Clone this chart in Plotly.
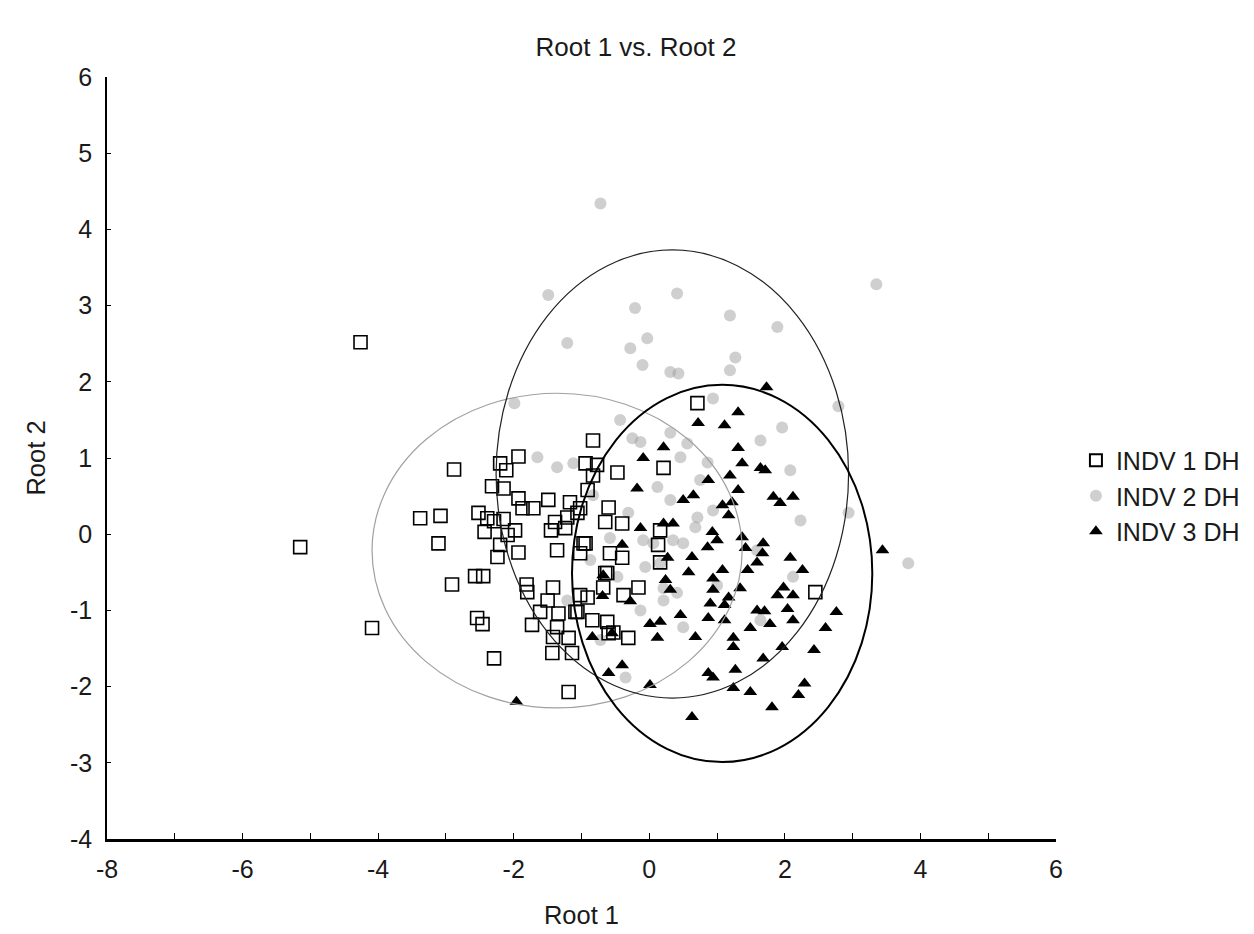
import plotly.graph_objects as go

# ---------------- data ----------------
indv1_x = [-4.26, -5.15, -4.09, -2.88, -3.38, -3.08, -3.11, -2.91, -2.57, -2.45,
           -2.54, -2.46, -2.29, -2.52, -2.39, -2.29, -2.15, -2.43, -1.98, -2.09,
           -2.20, -2.24, -1.93, -2.20, -1.93, -2.11, -2.32, -2.15, -1.93, -1.87,
           -1.71, -1.49, -1.17, -1.45, -1.39, -1.21, -1.24, -1.36, -1.81, -1.42,
           -1.80, -0.97, -1.02, -0.58, -0.40, -1.50, -1.61, -1.34, -1.06, -0.91,
           -1.02, -0.68, -0.65, -0.38, -0.16, -1.73, -1.36, -1.19, -1.42, -0.84,
           -0.62, -0.60, -0.53, -0.31, -1.43, -1.14, -1.19, 0.71, -0.83, -0.94,
           -0.77, -0.83, -0.47, 0.21, -0.91, -1.02, -1.06, -0.60, -0.65, -0.40,
           0.16, -0.94, 0.13, 0.16, -0.62, 2.45, -1.09]
indv1_y = [2.52, -0.17, -1.23, 0.85, 0.21, 0.24, -0.12, -0.66, -0.55, -0.55,
           -1.10, -1.18, -1.63, 0.28, 0.21, 0.17, 0.20, 0.03, 0.05, -0.01,
           -0.14, -0.30, -0.24, 0.93, 1.02, 0.84, 0.63, 0.60, 0.47, 0.34,
           0.34, 0.45, 0.42, 0.05, 0.16, 0.22, 0.08, -0.21, -0.66, -0.70,
           -0.76, -0.12, -0.25, -0.25, -0.31, -0.87, -1.02, -1.04, -1.02, -0.83,
           -0.80, -0.70, -0.51, -0.80, -0.70, -1.19, -1.22, -1.36, -1.35, -1.13,
           -1.15, -1.30, -1.29, -1.36, -1.56, -1.56, -2.07, 1.72, 1.23, 0.93,
           0.91, 0.77, 0.81, 0.87, 0.58, 0.34, 0.28, 0.35, 0.16, 0.14,
           0.05, -0.12, -0.14, -0.37, -0.51, -0.76, -1.02]

indv2_x = [-0.72, -1.49, -1.21, -0.21, 0.41, 1.19, 1.89, 3.35, -0.28, -0.03,
           -0.10, 0.31, 0.43, 1.27, 1.19, -1.99, 0.94, 2.79, 1.96, -0.25,
           -0.13, 0.31, 0.56, 0.46, 0.86, 0.12, -0.83, -0.31, 0.31, 0.71,
           0.94, 0.35, 0.50, -0.09, -0.58, -0.06, 1.00, 0.21, 0.68, 1.59,
           2.94, 3.82, 2.12, 0.41, 0.50, 0.21, -0.35, -0.47, 1.64, -1.21,
           0.16, 0.06, -1.65, -1.36, -1.12, -0.72, 0.75, -0.43, 1.64, 2.08,
           2.23, -0.87, -0.13]
indv2_y = [4.34, 3.14, 2.51, 2.97, 3.16, 2.87, 2.72, 3.28, 2.44, 2.57,
           2.22, 2.13, 2.11, 2.32, 2.15, 1.72, 1.78, 1.68, 1.40, 1.26,
           1.21, 1.33, 1.19, 1.01, 0.94, 0.62, 0.51, 0.28, 0.45, 0.22,
           0.31, -0.08, -0.12, -0.08, -0.05, -0.43, -0.67, -0.71, 0.09, -0.21,
           0.28, -0.38, -0.56, -0.77, -1.22, -0.87, -1.88, -0.56, -1.13, -0.87,
           -0.38, -0.12, 1.01, 0.88, 0.93, -1.39, 0.71, 1.50, 1.23, 0.84,
           0.18, -0.34, -1.00]

indv3_x = [1.73, 1.31, 0.72, 1.11, 1.31, 1.37, 0.21, -0.09, 1.64, 1.71,
           0.87, 1.19, -0.18, 0.65, 0.50, 1.31, 1.08, 1.22, 1.17, 1.83,
           1.93, 2.12, 0.21, 0.35, -0.13, 0.93, 1.00, 0.86, 1.37, 1.42,
           1.68, 1.67, -0.40, 0.63, 0.27, 2.08, 1.59, 2.26, 1.08, 0.58,
           0.94, 1.45, 0.24, 0.31, 0.94, 1.17, 1.34, 1.98, 2.12, 1.89,
           -0.68, -0.28, -0.69, 0.90, 1.11, 1.59, 1.70, 2.04, 0.46, 0.87,
           2.76, 0.01, 0.16, 1.11, 1.49, 1.78, 2.12, 2.60, -0.84, -0.55,
           0.12, 0.68, 1.24, 1.24, 1.96, 2.43, 1.68, 1.27, 0.87, 0.94,
           -0.40, -0.60, 0.01, 1.24, 1.49, 2.29, 2.20, 1.81, 0.63, -1.96,
           3.44]
indv3_y = [1.93, 1.60, 1.46, 1.43, 1.13, 0.93, 1.14, 1.00, 0.87, 0.84,
           0.71, 0.77, 0.60, 0.51, 0.45, 0.58, 0.38, 0.42, 0.25, 0.49,
           0.41, 0.49, 0.14, 0.14, 0.08, 0.03, -0.08, -0.17, -0.04, -0.18,
           -0.12, -0.25, -0.14, -0.30, -0.31, -0.31, -0.37, -0.47, -0.47, -0.50,
           -0.58, -0.47, -0.60, -0.73, -0.73, -0.83, -0.71, -0.70, -0.80, -0.80,
           -0.54, -0.88, -0.81, -0.91, -0.93, -1.00, -1.01, -0.98, -1.06, -1.10,
           -1.02, -1.18, -1.15, -1.13, -1.23, -1.18, -1.13, -1.23, -1.35, -1.30,
           -1.36, -1.35, -1.36, -1.48, -1.48, -1.52, -1.63, -1.78, -1.82, -1.88,
           -1.72, -1.82, -1.98, -2.02, -2.07, -1.96, -2.11, -2.27, -2.40, -2.20,
           -0.21]

# ellipse extents per group: [x0, x1, y0, y1]
ellipse_x0 = [-4.09, -2.26, -1.14]
ellipse_x1 = [1.37, 2.94, 3.29]
ellipse_y0 = [-2.28, -2.15, -2.99]
ellipse_y1 = [1.85, 3.73, 1.96]

series_names = ["INDV 1 DH", "INDV 2 DH", "INDV 3 DH"]
x_tick_vals = [-8, -6, -4, -2, 0, 2, 4, 6]
x_tick_text = ["-8", "-6", "-4", "-2", "0", "2", "4", "6"]
y_tick_vals = [-4, -3, -2, -1, 0, 1, 2, 3, 4, 5, 6]
y_tick_text = ["-4", "-3", "-2", "-1", "0", "1", "2", "3", "4", "5", "6"]

# ---------------- figure ----------------
FONT = "Liberation Sans, Arial, sans-serif"

fig = go.Figure()
fig.add_trace(go.Scatter(
    x=indv2_x, y=indv2_y, mode="markers", name=series_names[1],
    marker=dict(symbol="circle", size=12, color="rgba(160,160,160,0.5)",
                line=dict(width=0))))
fig.add_trace(go.Scatter(
    x=indv1_x, y=indv1_y, mode="markers", name=series_names[0],
    marker=dict(symbol="square-open", size=13, color="black",
                line=dict(width=1.6, color="black"))))
fig.add_trace(go.Scatter(
    x=indv3_x, y=indv3_y, mode="markers", name=series_names[2],
    marker=dict(symbol="triangle-up", size=12, color="black",
                line=dict(width=0))))

ell_styles = [dict(color="#a0a0a0", width=1.2),
              dict(color="#222222", width=1.2),
              dict(color="black", width=2)]
for i in range(3):
    fig.add_shape(type="circle", xref="x", yref="y",
                  x0=ellipse_x0[i], x1=ellipse_x1[i],
                  y0=ellipse_y0[i], y1=ellipse_y1[i],
                  line=ell_styles[i], layer="above")

fig.update_layout(
    width=1246, height=926,
    paper_bgcolor="white", plot_bgcolor="white",
    margin=dict(l=99, r=198, t=69, b=95, autoexpand=False),
    font=dict(family=FONT, size=25, color="#1a1a1a"),
    title=dict(text="Root 1 vs. Root 2", x=628 / 1246, xref="container",
               y=1 - 39 / 926, yref="container", yanchor="middle",
               xanchor="center", font=dict(size=26)),
    legend=dict(x=1.021, y=0.45, xanchor="left", yanchor="middle",
                traceorder="normal", font=dict(size=25),
                itemsizing="constant", bgcolor="rgba(0,0,0,0)",
                tracegroupgap=0),
    showlegend=True,
)
fig.update_xaxes(
    range=[-8, 6], tickvals=x_tick_vals, ticktext=x_tick_text,
    ticks="inside", ticklen=6, tickwidth=1, tickcolor="black",
    minor=dict(dtick=1, ticks="inside", ticklen=6, tickcolor="black"),
    showline=True, linecolor="black", linewidth=2.5,
    showgrid=False, zeroline=False, ticklabelstandoff=6,
    tickfont=dict(size=25), automargin=False,
    title=dict(text="Root 1", standoff=25, font=dict(size=25.5)),
)
fig.update_yaxes(
    range=[-4, 6], tickvals=y_tick_vals, ticktext=y_tick_text,
    ticks="inside", ticklen=4, tickcolor="black",
    showline=True, linecolor="black", linewidth=1.5,
    showgrid=False, zeroline=False, ticklabelstandoff=8,
    tickfont=dict(size=25), automargin=False,
    title=dict(text="Root 2", standoff=17, font=dict(size=25.5)),
)

fig.data[0].legendrank = 2
fig.data[1].legendrank = 1
fig.data[2].legendrank = 3

fig.write_html("out.html")
